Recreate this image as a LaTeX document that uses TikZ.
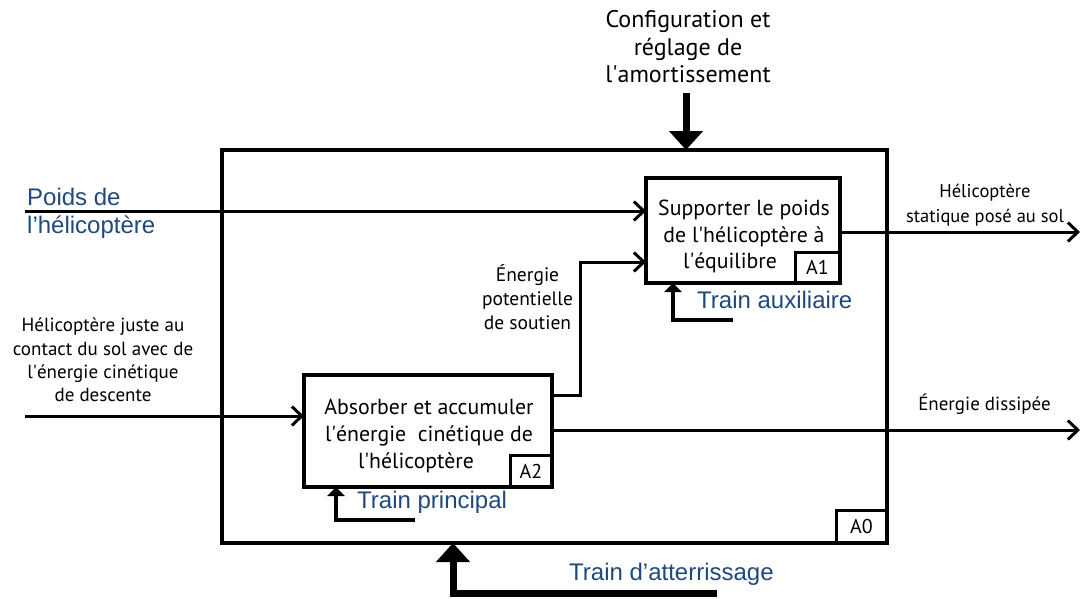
\documentclass[tikz,border=0pt]{standalone}
\usepackage{fontspec}
\setmainfont{PT Sans}
\newfontfamily\bluefont{Liberation Sans}
\usetikzlibrary{arrows.meta,positioning}
\definecolor{flowblue}{RGB}{31,73,125}
\newcommand{\ap}{\textquotesingle}
\tikzset{
  actbox/.style={draw, line width=4pt, inner sep=0pt, outer sep=0pt},
  tagbox/.style={draw, line width=3pt, inner sep=0pt, outer sep=0pt, anchor=south east,
    font=\fontsize{20}{20}\selectfont},
  boxtext/.style={align=center, inner sep=0pt, font=\fontsize{21.8}{26.8}\selectfont},
  smalltext/.style={align=center, inner sep=0pt, font=\fontsize{19}{23.3}\selectfont},
  bluetext/.style={inner sep=0pt, text=flowblue, font=\bluefont\fontsize{24}{27.5}\selectfont},
  flow/.style={line width=3pt, -{Straight Barb[length=10pt,width=19pt]}},
  mech/.style={line width=4pt, -{Triangle[length=9pt,width=17pt]}},
  bigarrow/.style={line width=7pt, -{Triangle[length=19pt,width=33pt]}},
}
\begin{document}
\begin{tikzpicture}[x=1pt,y=-1pt]
\useasboundingbox (0,0) rectangle (1084,598);
% activity boxes
\node[actbox, minimum width=665pt, minimum height=393pt] (A0) at (554.5,346.5) {};
\node[actbox, minimum width=194pt, minimum height=105pt] (A1) at (743,230.5) {};
\node[actbox, minimum width=248pt, minimum height=112pt] (A2) at (428,431) {};
\node[tagbox, minimum width=51pt, minimum height=33pt] (A0tag) at (A0.south east) {A0};
\node[tagbox, minimum width=45pt, minimum height=31pt] (A1tag) at (A1.south east) {A1};
\node[tagbox, minimum width=42pt, minimum height=32pt] (A2tag) at (A2.south east) {A2};
\node[boxtext] (A1txt) at (744,236.5) {Supporter le poids\\de l\ap hélicoptère à\\l\ap équilibre\hspace*{28pt}};
\node[boxtext] (A2txt) at (429,436) {Absorber et accumuler\\l\ap énergie\ \ cinétique de\\l\ap hélicoptère\hspace*{26pt}};
% labels
\node[align=center, inner sep=0pt, font=\fontsize{24}{27.5}\selectfont] (ctrl) at (688,47)
  {Configuration et\\réglage de\\l\ap amortissement};
\node[smalltext] (contact) at (103,360) {Hélicoptère juste au\\contact du sol avec de\\l\ap énergie cinétique\\de descente};
\node[smalltext, font=\fontsize{19.5}{24}\selectfont] (potlbl) at (527.5,297.5) {Énergie\\potentielle\\de soutien};
\node[smalltext, font=\fontsize{18.5}{25}\selectfont] (statlbl) at (985,205.5) {Hélicoptère\\statique posé au sol};
\node[smalltext, anchor=base] (disslbl) at (984.5,410) {Énergie dissipée};
\node[bluetext, align=left, anchor=west] (poids) at (27,213.5) {Poids de\\l’hélicoptère};
\node[bluetext, anchor=base west] (auxlbl) at (697,308) {Train auxiliaire};
\node[bluetext, anchor=base west] (prinlbl) at (357,508) {Train principal};
\node[bluetext, anchor=base west] (gearlbl) at (569,580) {Train d’atterrissage};
% inputs and outputs
\coordinate (poidsin) at (25,211);
\coordinate (contactin) at (25,416);
\coordinate (statout) at (1080,232);
\coordinate (dissout) at (1080,430);
\coordinate (potbend) at (580,395);
\coordinate (potin) at (646,262);
\draw[flow] (poidsin) -- (poidsin -| A1.west);
\draw[flow] (contactin) -- (contactin -| A2.west);
\draw[flow] (statout -| A1.east) -- (statout);
\draw[flow] (dissout -| A2.east) -- (dissout);
\draw[flow] (potbend -| A2.east) -- (potbend) |- (potin -| A1.west);
% control
\coordinate (ctrltop) at (686,93);
\draw[bigarrow] (ctrltop) -- (ctrltop |- A0.north);
% mechanisms
\coordinate (auxend) at (733,320);
\coordinate (auxup) at (673,0);
\draw[mech] (auxend) -| (auxup |- A1.south);
\coordinate (prinend) at (415,520);
\coordinate (prinup) at (336,0);
\draw[mech] (prinend) -| (prinup |- A2.south);
\coordinate (gearend) at (717,593);
\coordinate (gearup) at (453,0);
\draw[bigarrow] (gearend) -| (gearup |- A0.south);
\end{tikzpicture}
\end{document}
